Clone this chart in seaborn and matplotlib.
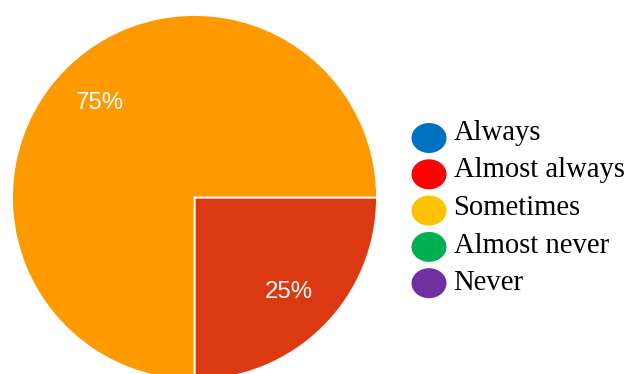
import matplotlib
matplotlib.use("Agg")
import matplotlib.pyplot as plt
from matplotlib.patches import Ellipse
import seaborn as sns

# Survey responses (percent of answers per frequency option)
categories = ["Always", "Almost always", "Sometimes", "Almost never", "Never"]
shares = [0, 25, 75, 0, 0]

# Slice colours and the colours used in the key
slice_colors = ["#3366CC", "#DC3912", "#FF9900", "#109618", "#990099"]
key_colors = ["#0070C0", "#FF0000", "#FFC000", "#00B050", "#7030A0"]

sns.set_theme(style="white")

W, H = 630, 374
fig = plt.figure(figsize=(W / 100, H / 100), dpi=100)
ax = fig.add_axes([0, 0, 1, 1])

# pie geometry in pixels
cx, cy, R = 194.5, 197.5, 182.5

shown = [(s, c) for s, c in zip(shares, sns.color_palette(slice_colors)) if s > 0]
ax.pie(
    [s for s, _ in shown],
    colors=[c for _, c in shown],
    startangle=0,
    counterclock=False,
    autopct=lambda p: f"{p:.0f}%",
    pctdistance=0.732,
    wedgeprops=dict(edgecolor="white", linewidth=1.3),
    textprops=dict(color="white", fontsize=17.3, family="Liberation Sans"),
)
ax.set_aspect("auto")
ax.set_xlim(-cx / R, (W - cx) / R)
ax.set_ylim(-(H - cy) / R, cy / R)
ax.axis("off")


def to_data(px, py):
    return (px - cx) / R, (cy - py) / R


# key: coloured ovals with serif labels
for i, (name, col) in enumerate(zip(categories, key_colors)):
    ex, ey = to_data(429, 138 + 36.3 * i)
    ax.add_patch(Ellipse((ex, ey), 35 / R, 30 / R, facecolor=col,
                         edgecolor="none", clip_on=False))
    tx, ty = to_data(453.5, 139.7 + 37.7 * i)
    ax.text(tx, ty, name, fontsize=20.6, family="Liberation Serif",
            color="black", va="baseline", ha="left")

fig.savefig("out.png", dpi=100, facecolor="white")
